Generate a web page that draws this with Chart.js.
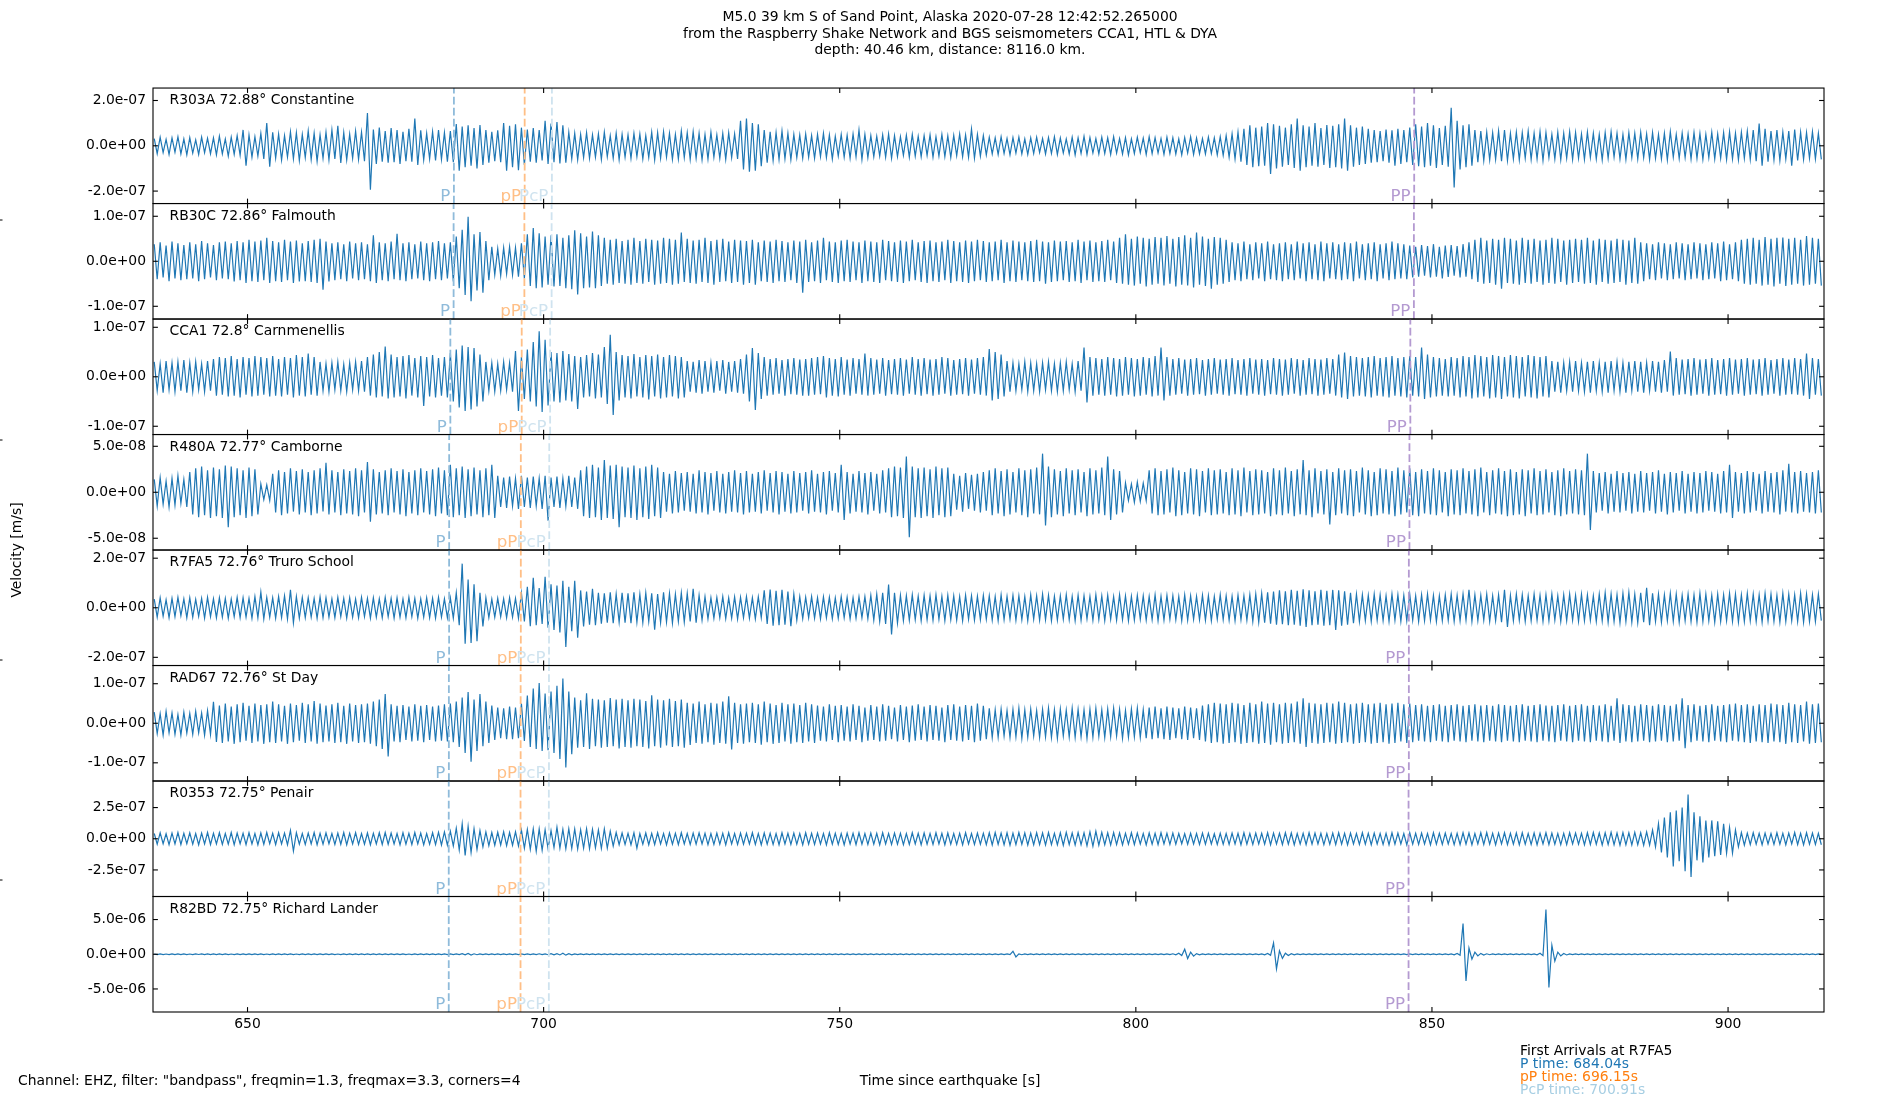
<!DOCTYPE html>
<html>
<head>
<meta charset="utf-8">
<title>M5.0 39 km S of Sand Point, Alaska - UK seismometers</title>
<script src="https://cdn.jsdelivr.net/npm/chart.js@4.4.1/dist/chart.umd.min.js"></script>
<style>
  html, body { margin: 0; padding: 0; background: #fff; }
  #wrap { position: relative; width: 1900px; height: 1100px; }
</style>
</head>
<body>
<div id="wrap"><canvas id="seismo" width="1900" height="1100"></canvas></div>
<script>
/*******************************
* DATA
********************************/
var titleLines = [
  'M5.0 39 km S of Sand Point, Alaska 2020-07-28 12:42:52.265000',
  'from the Raspberry Shake Network and BGS seismometers CCA1, HTL & DYA',
  'depth: 40.46 km, distance: 8116.0 km.'
];
var stations  = ['R303A', 'RB30C', 'CCA1', 'R480A', 'R7FA5', 'RAD67', 'R0353', 'R82BD'];
var distances = ['72.88', '72.86', '72.8', '72.77', '72.76', '72.76', '72.75', '72.75'];
var places    = ['Constantine', 'Falmouth', 'Carnmenellis', 'Camborne', 'Truro School', 'St Day', 'Penair', 'Richard Lander'];

// y limits (+/-) and tick value per panel, m/s
var yLimit = [2.55e-7, 1.283e-7, 1.167e-7, 6.28e-8, 2.33e-7, 1.46e-7, 4.63e-7, 8.32e-6];
var yTick  = [2e-7, 1e-7, 1e-7, 5e-8, 2e-7, 1e-7, 2.5e-7, 5e-6];

var xTicks = [650, 700, 750, 800, 850, 900];
var timeRange = [634.04, 916.2];

// arrival times per station, s since earthquake
var pTimes   = [684.85, 684.8, 684.25, 684.05, 684.04, 684.0, 683.98, 683.98];
var pPTimes  = [696.8, 696.75, 696.3, 696.15, 696.15, 696.12, 696.1, 696.1];
var pcpTimes = [701.4, 701.35, 701.1, 700.95, 700.91, 700.9, 700.88, 700.88];
var ppTimes  = [847.0, 846.95, 846.35, 846.2, 846.1, 846.1, 846.05, 846.05];

// traces: highest and lowest velocity in each 1 s bin, nm/s, first bin starts at 634 s
var binStart = 634;

var r303aHi = [
  32, 38, 28, 35, 40, 30, 36, 26, 38, 33,
  35, 42, 30, 38, 45, 70, 48, 40, 55, 100,
  60, 52, 45, 62, 58, 50, 66, 55, 48, 60,
  70, 88, 58, 52, 65, 60, 145, 72, 80, 65,
  78, 70, 62, 75, 120, 68, 55, 62, 70, 58,
  65, 96, 85, 90, 78, 92, 70, 62, 68, 100,
  88, 95, 80, 72, 78, 70, 110, 98, 105, 90,
  60, 55, 50, 58, 48, 52, 60, 45, 55, 50,
  48, 55, 52, 45, 60, 58, 62, 55, 50, 65,
  58, 62, 55, 50, 60, 48, 55, 58, 52, 110,
  120, 100, 95, 70, 62, 58, 65, 55, 50, 48,
  52, 45, 50, 55, 48, 42, 50, 46, 52, 70,
  50, 45, 42, 48, 52, 45, 40, 46, 50, 42,
  45, 48, 40, 50, 44, 46, 52, 48, 74, 50,
  45, 38, 35, 40, 32, 36, 38, 30, 35, 38,
  32, 36, 40, 34, 30, 38, 35, 42, 36, 32,
  38, 35, 40, 32, 36, 30, 38, 34, 40, 36,
  32, 38, 35, 30, 36, 40, 34, 32, 38, 35,
  40, 45, 52, 60, 75, 90, 80, 85, 100, 95,
  88, 80, 95, 120, 90, 85, 100, 78, 92, 88,
  95, 120, 90, 80, 85, 75, 70, 65, 72, 68,
  75, 70, 80, 95, 85, 100, 90, 78, 88, 168,
  110, 90, 95, 70, 65, 60, 58, 65, 70, 55,
  60, 58, 65, 55, 62, 58, 50, 60, 55, 62,
  58, 52, 60, 55, 50, 58, 62, 55, 50, 58,
  55, 60, 52, 58, 50, 55, 62, 50, 56, 52,
  58, 55, 50, 60, 52, 58, 62, 55, 60, 65,
  70, 98, 75, 65, 70, 60, 65, 72, 60, 58,
  62, 55
];
var r303aLo = [
  -35, -30, -38, -28, -36, -40, -32, -38, -30, -35,
  -40, -36, -45, -38, -42, -88, -50, -45, -58, -92,
  -55, -62, -50, -58, -65, -52, -60, -68, -55, -62,
  -58, -76, -62, -55, -60, -68, -194, -80, -70, -75,
  -72, -80, -68, -70, -85, -62, -58, -65, -60, -70,
  -72, -110, -95, -88, -100, -85, -75, -68, -72, -110,
  -95, -108, -85, -70, -75, -65, -80, -72, -78, -75,
  -58, -62, -52, -55, -50, -60, -48, -55, -62, -50,
  -55, -48, -58, -52, -62, -55, -50, -60, -58, -52,
  -60, -55, -62, -58, -50, -55, -60, -52, -58, -105,
  -114, -110, -90, -75, -65, -60, -58, -62, -52, -55,
  -50, -55, -48, -52, -58, -45, -50, -55, -48, -60,
  -52, -48, -45, -50, -55, -48, -42, -50, -46, -48,
  -42, -50, -45, -48, -52, -44, -48, -50, -55, -46,
  -40, -36, -38, -34, -40, -32, -36, -38, -34, -30,
  -36, -34, -38, -32, -36, -40, -34, -38, -32, -36,
  -34, -38, -32, -36, -40, -34, -30, -38, -35, -32,
  -38, -34, -36, -40, -32, -38, -35, -36, -34, -40,
  -42, -50, -58, -70, -85, -95, -90, -88, -124, -100,
  -92, -85, -98, -110, -95, -88, -92, -85, -98, -95,
  -100, -110, -92, -85, -80, -75, -72, -68, -75, -88,
  -80, -72, -85, -90, -95, -88, -98, -85, -92, -184,
  -105, -95, -88, -72, -65, -62, -60, -68, -65, -58,
  -62, -55, -60, -58, -65, -52, -58, -62, -55, -60,
  -55, -60, -52, -58, -62, -55, -50, -58, -60, -52,
  -58, -52, -60, -55, -58, -62, -50, -56, -52, -58,
  -55, -60, -52, -58, -55, -60, -58, -62, -55, -60,
  -68, -88, -70, -62, -65, -58, -88, -65, -60, -55,
  -58, -60
];

var rb30cHi = [
  38, 42, 35, 44, 40, 36, 42, 38, 45, 40,
  36, 42, 44, 40, 45, 42, 48, 44, 46, 52,
  45, 42, 48, 44, 46, 40, 45, 48, 50, 44,
  40, 42, 38, 44, 40, 42, 38, 58, 42, 40,
  44, 61, 40, 42, 38, 44, 40, 42, 45, 40,
  42, 55, 70, 99, 60, 65, 45, 32, 28, 30,
  32, 30, 40, 60, 74, 62, 55, 58, 60, 52,
  58, 69, 62, 55, 66, 58, 52, 48, 50, 45,
  48, 52, 45, 50, 48, 46, 52, 50, 48, 64,
  50, 46, 48, 52, 45, 48, 50, 44, 48, 46,
  45, 48, 42, 46, 44, 48, 45, 42, 46, 44,
  48, 42, 46, 52, 44, 42, 46, 48, 44, 42,
  46, 44, 42, 48, 45, 42, 46, 44, 48, 42,
  45, 46, 42, 44, 48, 45, 42, 46, 44, 48,
  45, 42, 44, 48, 42, 46, 44, 42, 45, 48,
  44, 42, 46, 44, 45, 42, 48, 44, 46, 42,
  45, 48, 44, 52, 60, 50, 55, 52, 50, 54,
  52, 56, 50, 54, 58, 52, 64, 55, 50, 54,
  52, 48, 42, 40, 44, 38, 42, 40, 44, 38,
  40, 42, 38, 44, 40, 42, 38, 44, 40, 42,
  38, 42, 40, 44, 38, 40, 42, 38, 40, 44,
  40, 38, 35, 32, 36, 34, 38, 32, 35, 36,
  34, 38, 42, 48, 52, 46, 50, 48, 52, 50,
  46, 52, 48, 50, 46, 48, 52, 50, 46, 48,
  50, 48, 52, 46, 50, 48, 46, 50, 48, 46,
  52, 42, 40, 38, 42, 40, 38, 42, 40, 38,
  42, 40, 38, 42, 40, 44, 38, 42, 48, 50,
  52, 48, 54, 50, 52, 53, 50, 52, 48, 56,
  52, 50
];
var rb30cLo = [
  -40, -36, -44, -38, -42, -40, -38, -44, -40, -36,
  -42, -38, -40, -45, -42, -48, -44, -46, -42, -48,
  -44, -46, -42, -48, -45, -44, -46, -48, -63, -45,
  -42, -40, -44, -38, -42, -40, -44, -48, -42, -44,
  -40, -42, -44, -40, -38, -42, -44, -40, -42, -38,
  -45, -60, -75, -89, -65, -70, -42, -30, -32, -28,
  -30, -34, -38, -55, -60, -58, -52, -56, -55, -60,
  -62, -74, -60, -58, -60, -55, -50, -52, -48, -50,
  -52, -48, -50, -46, -52, -50, -48, -52, -50, -46,
  -48, -50, -46, -48, -52, -46, -44, -48, -46, -52,
  -48, -52, -44, -46, -48, -44, -46, -42, -48, -70,
  -46, -44, -48, -42, -46, -48, -44, -46, -42, -48,
  -44, -46, -48, -42, -44, -46, -48, -44, -42, -46,
  -48, -44, -46, -42, -48, -44, -46, -48, -44, -42,
  -46, -44, -42, -48, -44, -46, -42, -44, -46, -44,
  -50, -46, -44, -42, -46, -44, -48, -42, -46, -44,
  -46, -42, -48, -50, -52, -54, -50, -56, -52, -50,
  -54, -50, -56, -52, -54, -58, -52, -55, -61, -52,
  -50, -46, -42, -44, -40, -42, -38, -44, -40, -42,
  -44, -40, -42, -38, -44, -40, -42, -44, -38, -40,
  -42, -40, -44, -38, -42, -40, -44, -38, -42, -40,
  -38, -40, -36, -34, -32, -36, -34, -38, -35, -32,
  -36, -34, -40, -46, -50, -48, -52, -61, -48, -50,
  -52, -48, -50, -46, -52, -48, -50, -46, -52, -48,
  -46, -50, -48, -52, -46, -50, -48, -46, -52, -48,
  -50, -44, -40, -42, -38, -42, -40, -38, -42, -40,
  -38, -42, -40, -38, -44, -42, -40, -44, -50, -52,
  -50, -54, -52, -56, -50, -55, -52, -50, -54, -52,
  -50, -54
];

var cca1Hi = [
  30, 26, 32, 28, 30, 34, 28, 30, 26, 32,
  36, 40, 38, 42, 36, 40, 38, 42, 40, 38,
  42, 36, 40, 38, 44, 40, 47, 40, 30, 26,
  28, 30, 25, 28, 30, 32, 40, 45, 50, 61,
  45, 40, 42, 44, 38, 42, 40, 44, 38, 40,
  48, 55, 63, 60, 58, 45, 30, 28, 26, 30,
  28, 52, 40, 55, 70, 92, 75, 50, 48, 52,
  46, 42, 40, 44, 48, 45, 60, 85, 50, 44,
  42, 46, 40, 44, 42, 45, 40, 44, 42, 40,
  32, 30, 34, 32, 28, 32, 34, 30, 32, 36,
  45, 58, 48, 40, 36, 38, 34, 36, 38, 35,
  36, 38, 40, 42, 38, 36, 40, 35, 38, 36,
  47, 38, 35, 38, 34, 36, 38, 35, 40, 36,
  38, 35, 36, 40, 38, 34, 36, 38, 35, 38,
  40, 56, 50, 45, 32, 28, 26, 30, 28, 26,
  28, 30, 26, 28, 30, 26, 32, 59, 40, 38,
  36, 40, 38, 36, 40, 38, 36, 40, 38, 42,
  59, 40, 36, 38, 35, 36, 38, 34, 36, 38,
  35, 36, 38, 34, 36, 38, 35, 36, 34, 38,
  36, 35, 38, 36, 34, 38, 36, 35, 38, 36,
  45, 49, 42, 40, 38, 40, 42, 38, 40, 42,
  38, 40, 42, 40, 59, 45, 40, 38, 36, 40,
  38, 42, 40, 44, 42, 40, 44, 42, 40, 44,
  42, 40, 44, 42, 40, 42, 32, 30, 28, 30,
  32, 28, 30, 32, 28, 30, 32, 30, 28, 30,
  32, 30, 28, 32, 30, 34, 51, 38, 35, 36,
  38, 35, 36, 38, 34, 36, 38, 35, 36, 38,
  35, 36, 38, 34, 36, 38, 35, 38, 36, 47,
  38, 36
];
var cca1Lo = [
  -28, -32, -26, -30, -28, -32, -30, -26, -30, -28,
  -38, -36, -40, -38, -42, -36, -40, -38, -36, -40,
  -38, -40, -36, -42, -38, -40, -36, -38, -28, -30,
  -26, -28, -30, -26, -28, -30, -38, -42, -40, -44,
  -42, -40, -44, -38, -42, -59, -40, -42, -38, -42,
  -50, -62, -69, -66, -60, -50, -28, -30, -28, -26,
  -30, -69, -45, -50, -60, -71, -58, -50, -52, -48,
  -50, -65, -42, -40, -44, -42, -55, -77, -48, -42,
  -44, -40, -42, -46, -40, -44, -42, -40, -44, -42,
  -30, -32, -34, -30, -32, -28, -34, -30, -32, -34,
  -50, -67, -45, -38, -36, -34, -38, -35, -36, -38,
  -38, -36, -35, -42, -38, -40, -36, -38, -34, -36,
  -38, -36, -34, -38, -35, -36, -38, -34, -36, -38,
  -35, -38, -36, -34, -38, -36, -35, -38, -34, -36,
  -38, -48, -45, -40, -30, -28, -26, -30, -28, -30,
  -26, -28, -30, -28, -26, -30, -28, -52, -38, -36,
  -38, -36, -40, -38, -36, -40, -38, -36, -40, -38,
  -48, -38, -36, -34, -38, -36, -35, -38, -36, -34,
  -36, -38, -35, -36, -38, -34, -36, -38, -35, -36,
  -38, -36, -34, -38, -36, -35, -38, -36, -34, -38,
  -42, -45, -40, -38, -40, -42, -38, -40, -42, -38,
  -40, -42, -38, -40, -45, -42, -40, -38, -40, -38,
  -42, -40, -44, -42, -40, -44, -42, -45, -40, -42,
  -44, -40, -42, -44, -40, -42, -30, -32, -28, -30,
  -28, -30, -32, -28, -30, -32, -28, -30, -32, -28,
  -30, -32, -28, -30, -32, -30, -38, -36, -35, -38,
  -36, -34, -38, -36, -35, -38, -36, -34, -38, -36,
  -35, -38, -36, -34, -38, -36, -35, -36, -38, -45,
  -36, -38
];

var r480aHi = [
  14, 16, 12, 15, 18, 14, 22, 26, 28, 24,
  27, 25, 29, 28, 26, 24, 27, 25, 9, 8,
  20, 24, 22, 26, 23, 25, 22, 24, 26, 32,
  24, 22, 25, 23, 26, 24, 33, 25, 22, 24,
  26, 23, 25, 22, 24, 26, 23, 25, 27, 24,
  30, 26, 28, 25, 27, 24, 26, 30, 18, 16,
  17, 15, 18, 16, 17, 15, 18, 16, 17, 15,
  18, 16, 24, 28, 30, 27, 35, 29, 30, 28,
  27, 29, 26, 28, 30, 27, 22, 20, 23, 21,
  22, 20, 24, 22, 21, 23, 20, 22, 24, 21,
  23, 20, 22, 24, 21, 23, 22, 20, 23, 21,
  22, 24, 20, 22, 23, 21, 30, 22, 20, 23,
  21, 22, 20, 24, 26, 28, 27, 39, 28, 26,
  27, 25, 28, 26, 27, 20, 18, 21, 19, 20,
  22, 24, 26, 23, 25, 22, 26, 24, 25, 27,
  42, 28, 25, 23, 26, 24, 25, 22, 26, 24,
  27, 39, 25, 23, 10, 9, 11, 10, 24, 26,
  23, 25, 27, 24, 22, 26, 25, 23, 26, 24,
  25, 22, 26, 24, 27, 23, 25, 24, 22, 26,
  24, 27, 23, 25, 35, 24, 26, 23, 25, 22,
  26, 24, 25, 23, 27, 24, 22, 26, 25, 23,
  27, 24, 26, 22, 25, 23, 26, 24, 22, 25,
  24, 26, 23, 25, 27, 22, 24, 26, 23, 25,
  22, 25, 24, 26, 23, 25, 22, 24, 26, 23,
  25, 24, 42, 23, 21, 22, 20, 23, 21, 22,
  20, 23, 21, 22, 24, 20, 22, 21, 23, 20,
  22, 21, 23, 22, 20, 23, 30, 22, 21, 23,
  22, 20, 23, 21, 22, 24, 31, 22, 23, 21,
  22, 24
];
var r480aLo = [
  -15, -13, -16, -14, -12, -16, -24, -27, -25, -28,
  -26, -28, -38, -27, -25, -28, -26, -24, -8, -9,
  -22, -25, -23, -21, -24, -22, -25, -23, -21, -24,
  -22, -25, -23, -24, -26, -22, -32, -24, -23, -25,
  -22, -24, -26, -23, -25, -22, -24, -26, -23, -25,
  -27, -25, -28, -26, -24, -27, -25, -28, -16, -17,
  -15, -18, -16, -17, -15, -18, -31, -16, -17, -15,
  -16, -18, -26, -28, -27, -30, -28, -29, -38, -27,
  -28, -30, -27, -29, -26, -28, -21, -23, -22, -20,
  -21, -23, -22, -24, -20, -22, -23, -21, -22, -24,
  -22, -21, -23, -20, -22, -24, -21, -23, -22, -20,
  -23, -21, -22, -24, -20, -22, -30, -23, -21, -22,
  -24, -20, -23, -22, -27, -26, -28, -49, -27, -28,
  -26, -28, -25, -27, -26, -19, -21, -18, -20, -22,
  -20, -25, -23, -26, -24, -22, -25, -27, -23, -24,
  -36, -27, -24, -26, -23, -25, -22, -26, -24, -23,
  -25, -30, -24, -22, -9, -11, -10, -9, -23, -25,
  -24, -22, -26, -25, -23, -24, -26, -22, -25, -24,
  -23, -25, -24, -26, -22, -25, -24, -23, -26, -24,
  -25, -23, -26, -24, -25, -27, -23, -24, -35, -25,
  -23, -25, -26, -22, -24, -26, -25, -23, -24, -26,
  -24, -22, -25, -26, -23, -24, -25, -22, -26, -24,
  -25, -23, -24, -26, -22, -25, -23, -24, -26, -25,
  -24, -26, -23, -25, -24, -22, -25, -26, -24, -23,
  -24, -25, -41, -22, -20, -23, -21, -22, -20, -23,
  -21, -22, -20, -23, -21, -24, -22, -20, -23, -21,
  -23, -22, -20, -21, -23, -22, -28, -21, -23, -22,
  -20, -23, -21, -22, -24, -21, -22, -23, -21, -22,
  -23, -22
];

var r7fa5Hi = [
  35, 40, 32, 38, 42, 36, 40, 34, 38, 42,
  36, 40, 38, 35, 42, 40, 38, 45, 63, 42,
  40, 45, 48, 72, 45, 42, 40, 38, 44, 40,
  36, 42, 38, 40, 35, 42, 38, 40, 36, 42,
  38, 40, 35, 42, 38, 36, 40, 38, 42, 36,
  40, 60, 178, 114, 95, 60, 40, 35, 38, 36,
  40, 38, 60, 85, 121, 80, 125, 95, 90, 109,
  85, 109, 70, 65, 77, 60, 58, 62, 55, 60,
  58, 62, 55, 60, 58, 55, 62, 58, 55, 60,
  58, 77, 50, 45, 40, 42, 45, 40, 44, 42,
  45, 40, 44, 70, 74, 68, 72, 65, 55, 45,
  42, 45, 40, 44, 42, 40, 45, 42, 40, 44,
  45, 50, 55, 60, 94, 60, 50, 48, 52, 46,
  50, 48, 52, 46, 50, 48, 45, 50, 48, 46,
  50, 48, 45, 52, 46, 50, 48, 45, 52, 48,
  55, 50, 46, 48, 52, 45, 50, 48, 46, 52,
  48, 50, 45, 52, 48, 46, 50, 48, 45, 52,
  46, 50, 48, 45, 52, 48, 46, 50, 48, 45,
  52, 48, 46, 50, 48, 52, 55, 58, 62, 65,
  70, 66, 72, 68, 75, 70, 66, 72, 68, 72,
  70, 66, 60, 55, 52, 50, 55, 52, 48, 55,
  52, 50, 55, 48, 52, 55, 50, 48, 52, 55,
  50, 55, 72, 52, 50, 55, 48, 52, 72, 50,
  55, 52, 48, 55, 50, 52, 55, 48, 52, 55,
  50, 55, 52, 48, 55, 60, 55, 52, 58, 62,
  55, 60, 81, 58, 55, 52, 58, 55, 50, 55,
  52, 58, 55, 50, 55, 52, 58, 55, 52, 58,
  55, 52, 58, 55, 50, 58, 55, 52, 58, 55,
  52, 55
];
var r7fa5Lo = [
  -38, -34, -40, -36, -32, -40, -38, -35, -42, -36,
  -40, -38, -42, -36, -40, -38, -42, -40, -45, -38,
  -42, -40, -45, -61, -42, -40, -38, -42, -40, -38,
  -40, -36, -42, -38, -40, -36, -42, -38, -40, -36,
  -42, -38, -40, -36, -42, -38, -40, -42, -38, -40,
  -42, -70, -145, -142, -135, -75, -40, -38, -36, -40,
  -38, -42, -55, -74, -70, -65, -80, -90, -100, -158,
  -95, -121, -75, -68, -70, -64, -60, -62, -58, -60,
  -62, -58, -60, -55, -88, -60, -58, -62, -55, -58,
  -55, -60, -50, -45, -42, -40, -44, -42, -45, -40,
  -42, -45, -40, -65, -72, -70, -68, -74, -50, -44,
  -40, -42, -45, -40, -44, -42, -40, -45, -42, -40,
  -44, -50, -55, -65, -108, -62, -52, -50, -48, -52,
  -48, -50, -46, -52, -48, -50, -52, -46, -50, -48,
  -46, -50, -52, -48, -45, -50, -48, -52, -46, -50,
  -48, -52, -50, -46, -48, -52, -50, -45, -50, -48,
  -52, -46, -50, -48, -52, -50, -46, -50, -48, -52,
  -50, -46, -48, -52, -50, -46, -48, -50, -52, -46,
  -48, -50, -52, -48, -50, -55, -58, -60, -64, -68,
  -66, -70, -68, -72, -77, -70, -68, -72, -70, -90,
  -72, -68, -62, -55, -52, -55, -50, -52, -55, -50,
  -55, -52, -50, -55, -52, -50, -55, -52, -50, -55,
  -52, -50, -55, -52, -50, -55, -52, -58, -77, -52,
  -50, -55, -52, -50, -55, -52, -50, -55, -52, -50,
  -55, -52, -50, -55, -52, -58, -55, -60, -55, -58,
  -60, -58, -70, -55, -58, -52, -55, -58, -52, -55,
  -58, -55, -52, -58, -55, -52, -55, -58, -55, -52,
  -55, -58, -52, -55, -58, -55, -52, -55, -58, -55,
  -55, -52
];

var rad67Hi = [
  28, 24, 30, 26, 22, 28, 25, 30, 26, 32,
  54, 45, 50, 42, 48, 52, 44, 50, 46, 48,
  55, 48, 44, 50, 46, 52, 48, 56, 50, 45,
  48, 52, 44, 50, 46, 48, 50, 55, 60, 74,
  48, 44, 46, 42, 48, 44, 46, 42, 45, 48,
  50, 55, 65, 79, 60, 74, 55, 45, 40, 38,
  42, 40, 50, 70, 88, 102, 75, 80, 95, 113,
  80, 65, 58, 76, 62, 60, 58, 64, 60, 62,
  58, 62, 60, 56, 71, 60, 58, 62, 56, 60,
  52, 50, 55, 48, 52, 50, 55, 68, 52, 48,
  50, 52, 48, 55, 50, 46, 52, 48, 50, 46,
  52, 48, 45, 42, 48, 44, 46, 42, 48, 44,
  40, 46, 42, 48, 44, 40, 46, 42, 45, 48,
  42, 46, 44, 40, 46, 48, 42, 46, 44, 50,
  44, 38, 34, 36, 32, 35, 38, 34, 36, 32,
  35, 38, 34, 36, 33, 38, 35, 34, 36, 38,
  34, 36, 38, 35, 32, 36, 38, 34, 40, 42,
  38, 42, 40, 38, 42, 40, 38, 45, 48, 52,
  50, 48, 52, 50, 46, 52, 48, 55, 50, 52,
  48, 52, 50, 55, 63, 52, 50, 48, 52, 50,
  55, 52, 48, 50, 52, 48, 50, 52, 48, 50,
  52, 48, 50, 46, 48, 44, 46, 48, 44, 46,
  48, 44, 46, 48, 45, 46, 44, 48, 46, 44,
  46, 48, 44, 46, 48, 45, 44, 46, 48, 44,
  46, 48, 44, 46, 45, 48, 44, 63, 48, 46,
  44, 48, 46, 44, 48, 46, 44, 48, 63, 46,
  48, 44, 46, 48, 44, 46, 48, 50, 46, 48,
  44, 48, 46, 50, 48, 46, 52, 48, 46, 55,
  48, 50
];
var rad67Lo = [
  -26, -30, -24, -28, -30, -25, -28, -24, -30, -28,
  -47, -50, -46, -52, -48, -44, -50, -46, -52, -48,
  -50, -46, -52, -48, -44, -50, -46, -52, -48, -46,
  -50, -48, -52, -46, -50, -48, -52, -58, -65, -84,
  -46, -48, -42, -46, -44, -48, -42, -46, -44, -46,
  -48, -60, -75, -97, -70, -58, -50, -42, -38, -40,
  -40, -38, -45, -60, -65, -70, -68, -75, -90, -112,
  -78, -62, -60, -65, -58, -62, -60, -58, -64, -60,
  -62, -58, -60, -64, -58, -62, -56, -60, -58, -62,
  -55, -50, -52, -48, -54, -50, -52, -66, -50, -52,
  -48, -50, -54, -48, -52, -50, -46, -52, -48, -50,
  -46, -50, -44, -46, -42, -48, -44, -46, -42, -48,
  -44, -42, -46, -44, -40, -46, -42, -48, -44, -42,
  -46, -42, -44, -48, -42, -44, -46, -42, -48, -44,
  -40, -36, -35, -32, -36, -34, -38, -35, -32, -36,
  -34, -36, -38, -32, -35, -36, -34, -38, -35, -33,
  -36, -34, -32, -38, -35, -34, -36, -38, -40, -38,
  -40, -42, -38, -40, -42, -38, -42, -46, -50, -48,
  -52, -50, -48, -52, -50, -48, -52, -50, -54, -48,
  -52, -50, -48, -52, -60, -50, -52, -50, -48, -52,
  -50, -48, -52, -50, -48, -52, -50, -48, -52, -50,
  -46, -50, -48, -44, -46, -48, -44, -46, -48, -44,
  -46, -48, -44, -46, -48, -44, -46, -48, -44, -46,
  -48, -44, -46, -48, -44, -46, -48, -44, -46, -48,
  -44, -46, -48, -44, -46, -48, -44, -50, -46, -48,
  -46, -44, -48, -46, -44, -48, -46, -44, -63, -48,
  -44, -46, -48, -44, -46, -48, -44, -46, -48, -50,
  -46, -48, -50, -46, -48, -52, -48, -50, -46, -52,
  -50, -48
];

var r0353Hi = [
  42, 48, 40, 45, 50, 44, 48, 42, 46, 50,
  44, 48, 42, 50, 46, 44, 48, 42, 46, 50,
  44, 48, 46, 67, 48, 42, 46, 50, 44, 48,
  42, 46, 50, 44, 48, 42, 46, 44, 48, 50,
  46, 42, 48, 44, 50, 46, 42, 48, 52, 55,
  60, 85, 120, 100, 80, 65, 55, 50, 52, 55,
  50, 55, 70, 75, 80, 78, 72, 65, 93, 75,
  80, 78, 72, 80, 75, 70, 78, 60, 50, 46,
  44, 48, 42, 46, 44, 48, 42, 46, 44, 48,
  42, 46, 48, 44, 42, 46, 44, 48, 42, 46,
  44, 48, 42, 46, 44, 42, 48, 44, 46, 42,
  48, 44, 46, 42, 48, 44, 42, 46, 44, 48,
  42, 46, 44, 48, 42, 46, 44, 42, 48, 44,
  46, 42, 48, 44, 46, 42, 44, 48, 42, 46,
  44, 48, 50, 45, 48, 44, 50, 46, 44, 48,
  46, 50, 44, 48, 52, 46, 50, 48, 55, 60,
  52, 48, 50, 46, 44, 48, 46, 42, 46, 44,
  48, 44, 46, 42, 40, 44, 42, 46, 44, 40,
  44, 42, 46, 44, 48, 42, 46, 44, 48, 46,
  44, 48, 46, 42, 44, 48, 46, 44, 42, 46,
  48, 44, 46, 42, 48, 44, 46, 42, 44, 48,
  46, 42, 48, 44, 46, 42, 48, 44, 46, 42,
  44, 48, 46, 42, 48, 50, 44, 46, 48, 44,
  46, 48, 42, 46, 44, 48, 46, 42, 44, 48,
  46, 44, 48, 50, 46, 48, 52, 46, 50, 48,
  52, 48, 55, 70, 120, 170, 213, 227, 250, 355,
  213, 180, 147, 147, 140, 120, 90, 70, 50, 45,
  48, 44, 46, 42, 48, 44, 46, 50, 44, 48,
  46, 44
];
var r0353Lo = [
  -44, -40, -48, -42, -46, -40, -44, -48, -42, -46,
  -42, -46, -44, -48, -40, -46, -42, -48, -44, -40,
  -46, -42, -48, -99, -44, -46, -42, -48, -44, -40,
  -46, -44, -48, -42, -46, -44, -48, -42, -46, -44,
  -42, -48, -44, -46, -42, -48, -44, -46, -50, -52,
  -58, -90, -134, -110, -85, -65, -55, -52, -50, -55,
  -52, -58, -75, -85, -99, -92, -80, -70, -75, -80,
  -78, -82, -75, -80, -72, -78, -75, -58, -48, -46,
  -48, -75, -44, -48, -46, -42, -48, -44, -46, -42,
  -46, -44, -42, -48, -46, -44, -48, -42, -46, -44,
  -42, -46, -48, -44, -46, -48, -42, -46, -44, -48,
  -44, -46, -42, -48, -44, -46, -48, -42, -46, -44,
  -46, -44, -48, -42, -46, -44, -48, -46, -42, -48,
  -44, -46, -42, -48, -44, -46, -48, -42, -46, -44,
  -46, -50, -44, -48, -52, -46, -44, -50, -48, -46,
  -50, -46, -48, -52, -46, -50, -48, -56, -60, -52,
  -48, -50, -46, -48, -44, -46, -42, -48, -44, -46,
  -42, -46, -44, -40, -44, -42, -46, -44, -42, -46,
  -44, -46, -42, -48, -44, -46, -42, -44, -48, -42,
  -46, -44, -48, -42, -46, -44, -42, -48, -44, -46,
  -44, -48, -42, -46, -44, -48, -42, -46, -48, -44,
  -42, -48, -44, -46, -42, -48, -44, -46, -42, -48,
  -46, -44, -48, -42, -46, -44, -48, -42, -46, -44,
  -48, -44, -46, -48, -42, -46, -44, -48, -46, -42,
  -44, -48, -46, -44, -50, -46, -48, -52, -48, -50,
  -48, -52, -50, -65, -110, -150, -222, -180, -260, -307,
  -173, -190, -150, -140, -130, -115, -115, -65, -52, -46,
  -44, -48, -42, -46, -44, -48, -42, -46, -48, -44,
  -46, -48
];

var r82bdHi = [
  40, 55, 35, 50, 45, 60, 38, 52, 44, 48,
  50, 42, 58, 36, 48, 55, 40, 46, 52, 38,
  45, 60, 42, 50, 36, 54, 48, 40, 56, 44,
  52, 38, 46, 58, 42, 50, 44, 55, 40, 48,
  56, 42, 50, 38, 54, 46, 60, 44, 50, 42,
  58, 46, 80, 120, 70, 55, 48, 60, 44, 52,
  50, 62, 46, 58, 54, 66, 60, 72, 90, 140,
  80, 62, 56, 50, 60, 48, 54, 46, 52, 58,
  44, 50, 56, 42, 48, 54, 40, 52, 46, 50,
  55, 42, 48, 52, 40, 56, 46, 50, 44, 52,
  48, 54, 42, 50, 46, 52, 40, 48, 56, 44,
  50, 46, 52, 40, 54, 48, 44, 56, 42, 50,
  46, 52, 40, 48, 54, 44, 50, 42, 56, 48,
  44, 50, 46, 52, 40, 54, 48, 44, 50, 46,
  52, 42, 48, 56, 44, 430, 60, 48, 52, 44,
  50, 46, 54, 42, 48, 52, 44, 56, 46, 50,
  42, 54, 48, 50, 44, 52, 46, 58, 48, 44,
  52, 60, 70, 150, 720, 300, 90, 60, 52, 48,
  54, 46, 50, 44, 52, 48, 56, 60, 120, 1630,
  500, 150, 70, 56, 48, 52, 46, 50, 44, 54,
  48, 52, 46, 50, 44, 56, 48, 42, 52, 46,
  50, 54, 44, 48, 52, 46, 56, 42, 50, 60,
  120, 4420, 900, 300, 120, 70, 56, 48, 52, 46,
  50, 44, 56, 60, 150, 6430, 1300, 300, 110, 60,
  52, 46, 50, 44, 54, 48, 52, 46, 50, 44,
  56, 48, 52, 46, 50, 42, 54, 48, 56, 50,
  46, 52, 44, 50, 54, 48, 42, 56, 50, 46,
  52, 48, 54, 44, 50, 46, 56, 48, 52, 44,
  50, 46
];
var r82bdLo = [
  -45, -38, -52, -42, -56, -40, -50, -36, -54, -46,
  -40, -52, -44, -58, -38, -48, -54, -42, -50, -46,
  -52, -40, -56, -44, -50, -38, -46, -54, -42, -58,
  -44, -50, -42, -54, -48, -40, -56, -46, -52, -42,
  -48, -54, -40, -52, -44, -58, -42, -50, -46, -54,
  -50, -56, -90, -110, -65, -52, -58, -46, -54, -48,
  -56, -48, -60, -52, -64, -58, -70, -85, -100, -130,
  -75, -58, -52, -60, -48, -56, -44, -54, -50, -46,
  -52, -46, -40, -54, -48, -42, -56, -46, -50, -44,
  -48, -54, -42, -50, -56, -44, -52, -46, -54, -40,
  -50, -44, -56, -42, -52, -46, -54, -48, -42, -56,
  -46, -52, -40, -54, -48, -42, -56, -46, -50, -44,
  -52, -46, -54, -42, -48, -56, -44, -50, -46, -52,
  -48, -42, -54, -46, -52, -44, -50, -56, -46, -50,
  -44, -52, -46, -42, -54, -380, -70, -52, -46, -50,
  -48, -54, -42, -50, -46, -52, -56, -44, -50, -48,
  -52, -46, -50, -44, -54, -48, -42, -50, -56, -46,
  -48, -56, -80, -180, -620, -280, -80, -56, -48, -52,
  -46, -52, -48, -54, -44, -50, -58, -70, -150, -2100,
  -600, -180, -80, -52, -46, -50, -54, -44, -50, -48,
  -52, -46, -50, -44, -56, -48, -52, -46, -50, -54,
  -46, -50, -56, -44, -48, -52, -46, -50, -54, -70,
  -150, -3840, -700, -250, -110, -65, -52, -48, -54, -46,
  -52, -46, -50, -70, -200, -4800, -1000, -250, -100, -56,
  -48, -52, -46, -54, -50, -44, -48, -52, -46, -50,
  -52, -46, -50, -44, -54, -48, -52, -46, -50, -54,
  -48, -52, -46, -50, -44, -56, -48, -52, -46, -50,
  -54, -46, -50, -52, -48, -56, -44, -50, -46, -52,
  -48, -50
];


(function(){
  /*******************************
  * LOAD
  ********************************/
  window.addEventListener('load', function() {
    app.init();
  });

  var FONT = 'DejaVu Sans';
  var FONT_PX = 13.9;      // 10 pt
  var PHASE_PX = 16.7;     // 12 pt, arrival names
  var TRACE = '#1f77b4';

  var traceHi = [r303aHi, rb30cHi, cca1Hi, r480aHi, r7fa5Hi, rad67Hi, r0353Hi, r82bdHi];
  var traceLo = [r303aLo, rb30cLo, cca1Lo, r480aLo, r7fa5Lo, rad67Lo, r0353Lo, r82bdLo];

  var phases = [
    { name: 'P',   times: pTimes,   color: '#8fbbda' },
    { name: 'pP',  times: pPTimes,  color: '#ffbf86' },
    { name: 'PcP', times: pcpTimes, color: '#cfe3ef' },
    { name: 'PP',  times: ppTimes,  color: '#b49ad1' }
  ];

  // 2.0e-07 style labels like matplotlib
  function fmtExp(v) {
    if (Math.abs(v) < 1e-30) return '0.0e+00';
    return v.toExponential(1).replace(/e([+-])(\d)$/, 'e$10$2');
  }

  // bins -> points, max then min inside each second
  function buildTrace(hi, lo) {
    var pts = [];
    var n = Math.min(hi.length, lo.length);
    for (var k = 0; k < n; k++) {
      var t = binStart + k;
      pts.push({ x: t + 0.25, y: hi[k] * 1e-9 });
      pts.push({ x: t + 0.75, y: lo[k] * 1e-9 });
    }
    return pts;
  }

  function line(ctx, x1, y1, x2, y2) {
    ctx.beginPath();
    ctx.moveTo(x1, y1);
    ctx.lineTo(x2, y2);
    ctx.stroke();
  }

  /*******************************
  * Panel frames, inward ticks, arrivals, labels
  ********************************/
  var panelPlugin = {
    id: 'panels',
    afterDatasetsDraw: function(chart) {
      var ctx = chart.ctx;
      var xs = chart.scales.x;
      var left = xs.left, right = xs.right;
      var tl = 4.9;
      ctx.save();

      stations.forEach(function(st, i) {
        var ys = chart.scales['y' + i];
        var top = ys.top, bottom = ys.bottom;

        // arrival lines + names
        phases.forEach(function(ph) {
          var px = xs.getPixelForValue(ph.times[i]);
          ctx.strokeStyle = ph.color;
          ctx.lineWidth = 1.8;
          ctx.setLineDash([7.7, 3.3]);
          line(ctx, px, bottom, px, top);
          ctx.setLineDash([]);
          ctx.fillStyle = ph.color;
          ctx.font = PHASE_PX + 'px "' + FONT + '"';
          ctx.textAlign = 'right';
          ctx.textBaseline = 'alphabetic';
          ctx.fillText(ph.name, px - 3.5, bottom - 3);
        });

        // frame
        ctx.strokeStyle = '#000';
        ctx.lineWidth = 1.1;
        ctx.strokeRect(left, top, right - left, bottom - top);

        // x ticks, top and bottom, pointing in
        xs.ticks.forEach(function(t) {
          var px = xs.getPixelForValue(t.value);
          line(ctx, px, top, px, top + tl);
          line(ctx, px, bottom, px, bottom - tl);
        });

        // y ticks, left and right, pointing in
        ys.ticks.forEach(function(t) {
          var py = ys.getPixelForValue(t.value);
          line(ctx, left, py, left + tl, py);
          line(ctx, right, py, right - tl, py);
        });

        // station name
        ctx.fillStyle = '#000';
        ctx.font = FONT_PX + 'px "' + FONT + '"';
        ctx.textAlign = 'left';
        ctx.textBaseline = 'alphabetic';
        ctx.fillText(st + ' ' + distances[i] + '\u00b0 ' + places[i], left + 16.5, top + 16);
      });

      ctx.restore();
    },

    afterDraw: function(chart) {
      var ctx = chart.ctx;
      ctx.save();
      ctx.font = FONT_PX + 'px "' + FONT + '"';
      ctx.fillStyle = '#000';
      ctx.textBaseline = 'middle';

      // y label
      ctx.save();
      ctx.translate(17, 550);
      ctx.rotate(-Math.PI / 2);
      ctx.textAlign = 'center';
      ctx.fillText('Velocity [m/s]', 0, 0);
      ctx.restore();

      // stray ticks of the hidden figure axis at the left edge
      ctx.strokeStyle = '#000';
      ctx.lineWidth = 1;
      [220, 440, 660, 880].forEach(function(y) { line(ctx, 0, y, 2.5, y); });

      ctx.textAlign = 'left';
      ctx.fillText('Channel: EHZ, filter: "bandpass", freqmin=1.3, freqmax=3.3, corners=4', 18, 1081);
      ctx.textAlign = 'center';
      ctx.fillText('Time since earthquake [s]', 950, 1081);

      // first arrivals box
      var rows = [
        ['First Arrivals at R7FA5', '#000000'],
        ['P time: ' + pTimes[4].toFixed(2) + 's', '#1f77b4'],
        ['pP time: ' + pPTimes[4].toFixed(2) + 's', '#ff7f0e'],
        ['PcP time: ' + pcpTimes[4].toFixed(2) + 's', '#a6cee3']
      ];
      ctx.textAlign = 'left';
      rows.forEach(function(r, k) {
        ctx.fillStyle = r[1];
        ctx.fillText(r[0], 1520, 1051 + k * 13.25);
      });
      ctx.restore();
    }
  };

  var app = {

    /*******************************
    * Initialize
    ********************************/
    init: function() {
      Chart.defaults.font.family = FONT;
      Chart.defaults.font.size = FONT_PX;
      Chart.defaults.color = '#000';
      app.chart();
    },

    /*******************************
    * CHART
    ********************************/
    chart: function() {
      var scales = {
        x: {
          type: 'linear',
          position: 'bottom',
          min: timeRange[0],
          max: timeRange[1],
          grid: { display: false, drawTicks: false },
          border: { display: false },
          afterBuildTicks: function(scale) {
            scale.ticks = xTicks.map(function(v) { return { value: v }; });
          },
          afterFit: function(scale) { scale.height = 30; },
          ticks: {
            autoSkip: false,
            maxRotation: 0,
            padding: 4,
            callback: function(v) { return String(v); }
          }
        }
      };

      var datasets = [];

      stations.forEach(function(st, i) {
        scales['y' + i] = {
          type: 'linear',
          position: 'left',
          stack: 'traces',
          stackWeight: 1,
          weight: stations.length - i,
          min: -yLimit[i],
          max: yLimit[i],
          grid: { display: false, drawTicks: false },
          border: { display: false },
          afterBuildTicks: function(scale) {
            scale.ticks = [-yTick[i], 0, yTick[i]].map(function(v) { return { value: v }; });
          },
          afterFit: function(scale) { scale.width = 77; },
          ticks: {
            autoSkip: false,
            padding: 7,
            callback: function(v) { return fmtExp(v); }
          }
        };

        datasets.push({
          label: st,
          data: buildTrace(traceHi[i], traceLo[i]),
          xAxisID: 'x',
          yAxisID: 'y' + i,
          borderColor: TRACE,
          borderWidth: 1.2,
          pointRadius: 0,
          tension: 0,
          fill: false
        });
      });

      new Chart(document.getElementById('seismo'), {
        type: 'line',
        data: { datasets: datasets },
        options: {
          responsive: false,
          animation: false,
          parsing: false,
          normalized: true,
          events: [],
          layout: { padding: { left: 76, right: 76, top: 0, bottom: 58 } },
          plugins: {
            legend: { display: false },
            tooltip: { enabled: false },
            title: {
              display: true,
              text: titleLines,
              color: '#000',
              font: { family: FONT, size: FONT_PX, weight: 'normal', lineHeight: 1.2 },
              padding: { top: 9, bottom: 29 }
            }
          },
          scales: scales
        },
        plugins: [panelPlugin]
      });
    }
  };

  /*******************************
  * END
  ********************************/
})();
</script>
</body>
</html>
